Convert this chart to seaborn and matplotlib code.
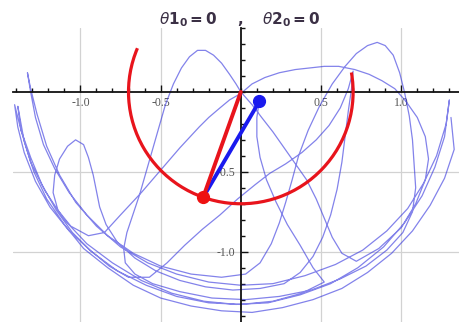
import matplotlib
matplotlib.use("Agg")
import matplotlib.pyplot as plt
import seaborn as sns
import pandas as pd
from matplotlib.patches import Arc
from matplotlib.ticker import FixedLocator, FixedFormatter, MultipleLocator

# Pendulum geometry (arm lengths) and current state
arm1 = 0.7
arm2 = 0.7
pivot = (0.0, 0.0)
bob1 = (-0.235, -0.660)
bob2 = (0.115, -0.060)

# Sweep of the first bob (degrees, counter-clockwise from +x)
swing_start_deg = 157
swing_end_deg = 10

# Traced path of the second bob
path_points = [
    # outer swing, right to left
    (1.31, -0.16), (1.33, -0.36), (1.27, -0.54), (1.18, -0.71), (1.07, -0.87),
    (0.94, -1.01), (0.79, -1.13), (0.63, -1.23), (0.45, -1.30), (0.26, -1.35),
    (0.07, -1.38), (-0.12, -1.37), (-0.31, -1.34), (-0.50, -1.29), (-0.67, -1.21),
    (-0.83, -1.10), (-0.98, -0.98), (-1.10, -0.83), (-1.21, -0.67), (-1.29, -0.50),
    (-1.35, -0.31), (-1.39, -0.09),
    # back to the right
    (-1.37, -0.24), (-1.31, -0.44), (-1.22, -0.62), (-1.10, -0.80), (-0.96, -0.95),
    (-0.80, -1.07), (-0.62, -1.18), (-0.43, -1.26), (-0.23, -1.31), (-0.03, -1.33),
    (0.17, -1.32), (0.37, -1.27), (0.56, -1.20), (0.73, -1.10), (0.89, -0.97),
    (1.02, -0.82), (1.13, -0.65), (1.21, -0.47), (1.27, -0.28), (1.30, -0.05),
    # inner swing to the high left cusp
    (1.28, -0.20), (1.22, -0.40), (1.14, -0.57), (1.04, -0.73), (0.91, -0.87),
    (0.76, -0.99), (0.59, -1.08), (0.40, -1.15), (0.20, -1.20), (0.00, -1.21),
    (-0.20, -1.19), (-0.40, -1.14), (-0.58, -1.07), (-0.75, -0.97), (-0.90, -0.84),
    (-1.03, -0.69), (-1.13, -0.52), (-1.21, -0.34), (-1.27, -0.14), (-1.31, 0.02),
    (-1.33, 0.12),
    # down and up into the right-hand loop
    (-1.31, 0.00), (-1.28, -0.16), (-1.23, -0.33), (-1.16, -0.48), (-1.07, -0.63),
    (-0.96, -0.77), (-0.83, -0.90), (-0.67, -1.01), (-0.50, -1.09), (-0.31, -1.14),
    (-0.12, -1.16), (0.03, -1.14), (0.12, -1.07), (0.19, -0.95), (0.24, -0.82),
    (0.28, -0.69), (0.32, -0.55), (0.36, -0.40), (0.42, -0.24), (0.49, -0.09),
    (0.57, 0.05), (0.65, 0.16), (0.72, 0.24), (0.79, 0.29), (0.85, 0.31),
    (0.90, 0.29), (0.95, 0.23), (0.99, 0.12), (1.02, 0.00), (1.05, -0.15),
    (1.07, -0.30), (1.08, -0.45), (1.09, -0.60), (1.07, -0.75), (1.01, -0.88),
    (0.91, -0.99), (0.78, -1.09), (0.62, -1.17), (0.44, -1.24), (0.24, -1.28),
    (0.03, -1.30), (-0.18, -1.29), (-0.38, -1.25), (-0.55, -1.20), (-0.66, -1.14),
    # left-hand loop over the top, through the pivot
    (-0.72, -1.07), (-0.73, -0.98), (-0.71, -0.88), (-0.67, -0.76), (-0.63, -0.64),
    (-0.59, -0.50), (-0.55, -0.36), (-0.51, -0.22), (-0.47, -0.08), (-0.42, 0.05),
    (-0.37, 0.15), (-0.32, 0.22), (-0.27, 0.26), (-0.22, 0.26), (-0.17, 0.23),
    (-0.12, 0.18), (-0.07, 0.11), (-0.03, 0.05), (0.00, 0.00), (0.07, -0.08),
    (0.13, -0.16), (0.20, -0.25), (0.27, -0.35), (0.34, -0.45), (0.41, -0.55),
    (0.47, -0.67), (0.52, -0.79), (0.57, -0.91), (0.63, -1.01), (0.72, -1.06),
    # right side and the flat arc back across the top
    (0.86, -0.98), (1.00, -0.85), (1.09, -0.70), (1.15, -0.55), (1.17, -0.42),
    (1.15, -0.28), (1.10, -0.16), (1.03, -0.06), (0.96, 0.02), (0.88, 0.07),
    (0.80, 0.11), (0.71, 0.14), (0.61, 0.16), (0.52, 0.16), (0.43, 0.15),
    (0.34, 0.14), (0.24, 0.12), (0.15, 0.09), (0.07, 0.05), (0.00, -0.01),
    (-0.07, -0.05), (-0.13, -0.10), (-0.20, -0.16), (-0.26, -0.22), (-0.38, -0.35),
    (-0.50, -0.49), (-0.62, -0.63), (-0.75, -0.77), (-0.85, -0.88), (-0.95, -0.90),
    # small arch on the left
    (-1.06, -0.84), (-1.14, -0.74), (-1.17, -0.63), (-1.16, -0.52), (-1.13, -0.42),
    (-1.08, -0.34), (-1.03, -0.30), (-0.98, -0.33), (-0.95, -0.41), (-0.92, -0.52),
    (-0.90, -0.62), (-0.88, -0.72), (-0.84, -0.83), (-0.77, -0.94), (-0.66, -1.04),
    (-0.53, -1.12), (-0.38, -1.18), (-0.22, -1.22), (-0.05, -1.24), (0.12, -1.23),
    (0.27, -1.20),
    # cusp beside the sweep's right end
    (0.37, -1.13), (0.45, -1.03), (0.51, -0.91), (0.56, -0.77), (0.60, -0.61),
    (0.63, -0.44), (0.65, -0.28), (0.67, -0.12), (0.69, 0.02), (0.70, 0.13),
    (0.67, 0.02), (0.62, -0.10), (0.55, -0.21), (0.47, -0.30), (0.38, -0.38),
    (0.28, -0.45), (0.18, -0.51), (0.09, -0.58), (-0.02, -0.67), (-0.13, -0.77),
    (-0.24, -0.86), (-0.35, -0.96), (-0.46, -1.07), (-0.57, -1.16),
    # last outer swing
    (-0.70, -1.16), (-0.82, -1.09), (-0.94, -0.99), (-1.05, -0.88), (-1.15, -0.74),
    (-1.24, -0.58), (-1.31, -0.41), (-1.37, -0.24), (-1.41, -0.08), (-1.39, -0.22),
    (-1.35, -0.38), (-1.28, -0.56), (-1.19, -0.72), (-1.07, -0.87), (-0.93, -1.00),
    (-0.77, -1.12), (-0.59, -1.21), (-0.40, -1.28), (-0.20, -1.32), (0.00, -1.33),
    (0.20, -1.31), (0.38, -1.26), (0.52, -1.19),
    # rising to the present position
    (0.45, -1.10), (0.37, -0.96), (0.29, -0.83), (0.22, -0.69), (0.16, -0.55),
    (0.12, -0.41), (0.10, -0.28), (0.10, -0.16), (0.115, -0.060),
]
path_x = [p[0] for p in path_points]
path_y = [p[1] for p in path_points]

x_tick_values = [-1.0, -0.5, 0.5, 1.0]
x_tick_labels = ["-1.0", "-0.5", "0.5", "1.0"]
y_tick_values = [-1.0, -0.5]
y_tick_labels = ["-1.0", "-0.5"]

sns.set_theme(style="white")
plt.rcParams["axes.unicode_minus"] = False

fig = plt.figure(figsize=(4.59, 3.22), dpi=100)
ax = fig.add_axes([13 / 459, 0.0, 446 / 459, 294 / 322])
ax.set_xlim(-1.42, 1.36)
ax.set_ylim(-1.44, 0.40)

# Axes through the origin
for side in ("top", "right"):
    ax.spines[side].set_visible(False)
for side in ("left", "bottom"):
    ax.spines[side].set_position(("data", 0))
    ax.spines[side].set_color("#111111")
    ax.spines[side].set_linewidth(1.3)
    ax.spines[side].set_zorder(3)

ax.xaxis.set_major_locator(FixedLocator(x_tick_values))
ax.xaxis.set_major_formatter(FixedFormatter(x_tick_labels))
ax.yaxis.set_major_locator(FixedLocator(y_tick_values))
ax.yaxis.set_major_formatter(FixedFormatter(y_tick_labels))
ax.xaxis.set_minor_locator(MultipleLocator(0.1))
ax.yaxis.set_minor_locator(MultipleLocator(0.1))
ax.tick_params(which="both", bottom=True, left=True, direction="in",
               color="#111111", width=1.0)
ax.tick_params(which="major", length=5, labelsize=8.5, labelcolor="#555555", pad=4)
ax.tick_params(which="minor", length=3)
for lbl in ax.get_xticklabels() + ax.get_yticklabels():
    lbl.set_family("Liberation Serif")

ax.grid(True, which="major", color="#d2d2d2", linewidth=0.9)
ax.set_axisbelow(True)

# Path of the second bob
sns.lineplot(x=path_x, y=path_y, sort=False, estimator=None, ax=ax,
             color="#3030dd", linewidth=0.9, alpha=0.6, zorder=2)

# Sweep of the first bob
ax.add_patch(Arc(pivot, 2 * arm1, 2 * arm1, theta1=swing_start_deg,
                 theta2=swing_end_deg, color="#e8141c", linewidth=2.3, zorder=4))

# Rods and bobs
rods = pd.DataFrame({"x": [pivot[0], bob1[0]], "y": [pivot[1], bob1[1]]})
ax.plot([bob1[0], bob2[0]], [bob1[1], bob2[1]], color="#1a1aee",
        linewidth=2.8, solid_capstyle="round", zorder=5)
ax.plot(rods["x"], rods["y"], color="#e8141c", linewidth=2.8,
        solid_capstyle="round", zorder=6)
ax.plot([bob2[0]], [bob2[1]], "o", color="#1a1aee", markersize=8.5, zorder=7)
ax.plot([bob1[0]], [bob1[1]], "o", color="#ee1111", markersize=8.5, zorder=7)

# Title: initial angles
title_kw = dict(fontsize=11, color="#3b3045", ha="center", va="baseline",
                fontweight="bold")
fig.text(188 / 459, 1 - 24 / 322, r"$\theta\mathbf{1}_{\mathbf{0}}\mathbf{=0}$", **title_kw)
fig.text(240 / 459, 1 - 24 / 322, ",", **title_kw)
fig.text(291 / 459, 1 - 24 / 322, r"$\theta\mathbf{2}_{\mathbf{0}}\mathbf{=0}$", **title_kw)

fig.savefig("out.png", dpi=100)
